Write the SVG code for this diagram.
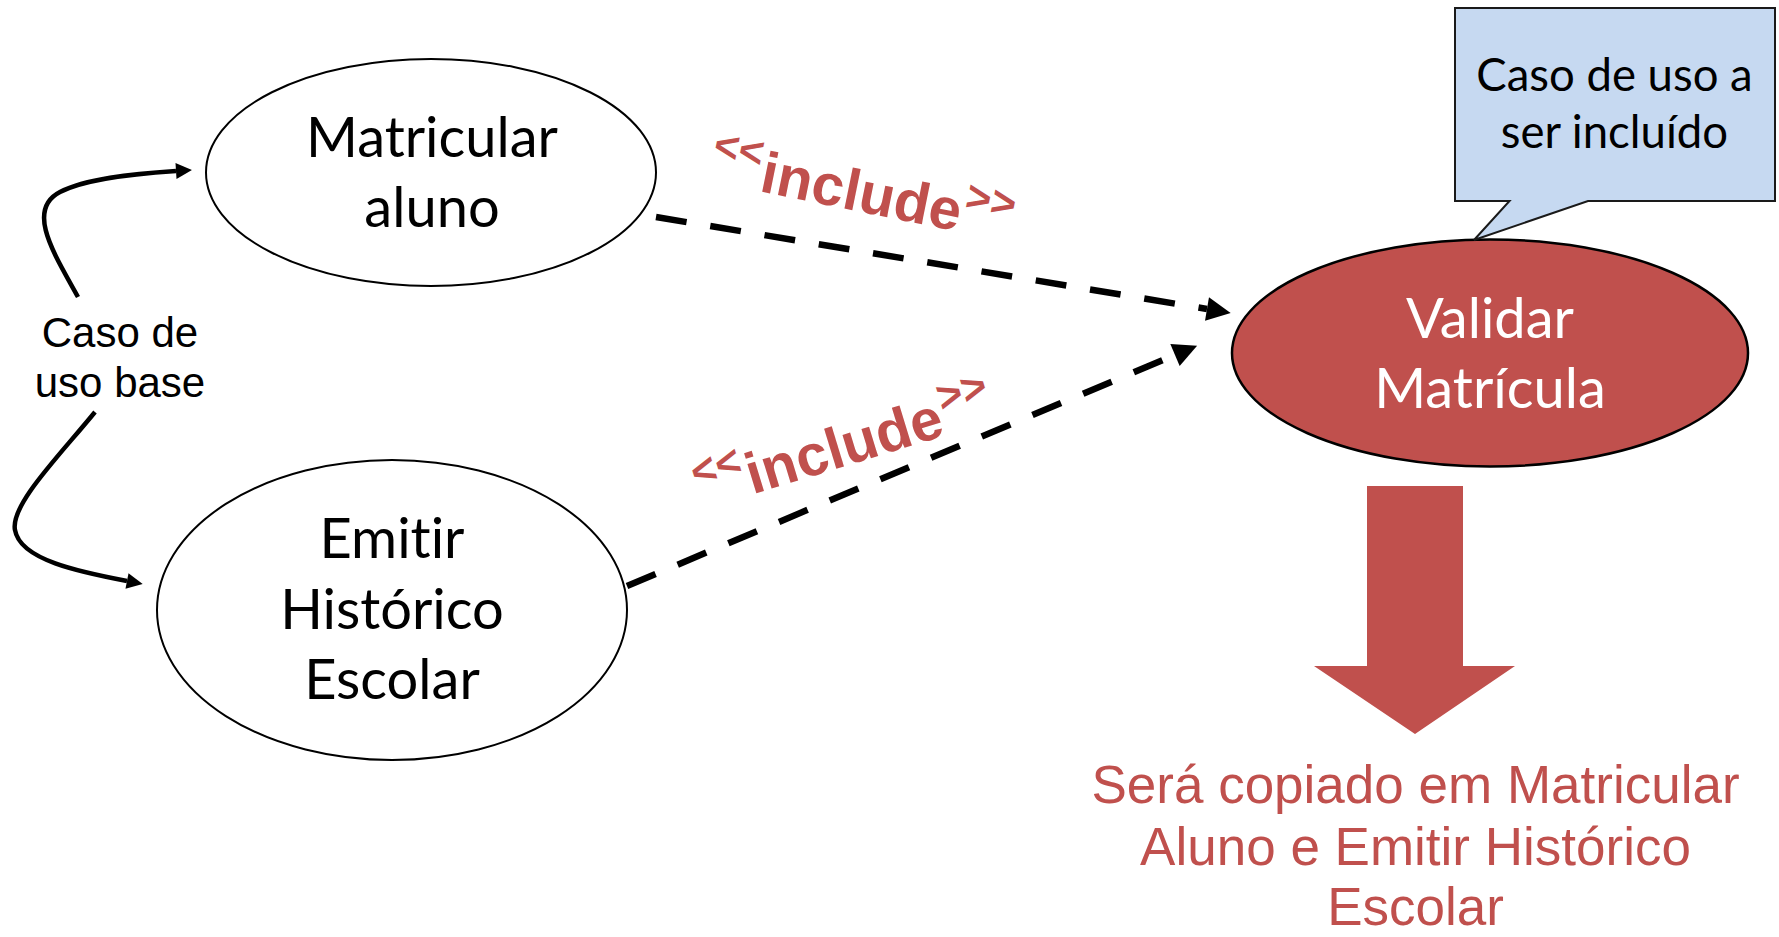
<svg xmlns="http://www.w3.org/2000/svg" width="1779" height="937" viewBox="0 0 1779 937">
<style>
.uc{font-family:Lato,"Open Sans","Liberation Sans",sans-serif;font-size:56px;text-anchor:middle;fill:#000;font-variant-ligatures:none}
.ucw{fill:#fff}
.note{font-family:Lato,"Open Sans","Liberation Sans",sans-serif;font-size:45.5px;text-anchor:middle;fill:#000;font-variant-ligatures:none}
.lbl{font-family:"Liberation Sans",Arial,sans-serif;font-size:42px;text-anchor:middle;fill:#000}
.inc{font-family:"Liberation Sans",Arial,sans-serif;font-weight:bold;font-size:58px;fill:#C0504D}
.ch{font-size:43px}
.red{font-family:"Liberation Sans",Arial,sans-serif;font-size:53px;text-anchor:middle;fill:#C0504D}
.dash{fill:none;stroke:#000;stroke-width:6.5;stroke-dasharray:31 24;marker-end:url(#tri)}
.curve{fill:none;stroke:#000;stroke-width:4.5;marker-end:url(#tri2)}
</style>
<defs>
<marker id="tri" markerUnits="userSpaceOnUse" markerWidth="26" markerHeight="26" refX="0" refY="12" orient="auto" viewBox="0 0 26 26" overflow="visible">
<path d="M0,0 L24,12 L0,24 Z" fill="#000"/>
</marker>
<marker id="tri2" markerUnits="userSpaceOnUse" markerWidth="18" markerHeight="18" refX="0" refY="8" orient="auto" viewBox="0 0 18 18" overflow="visible">
<path d="M0,0 L16,8 L0,16 Z" fill="#000"/>
</marker>
</defs>
<rect width="1779" height="937" fill="#fff"/>

<g id="connectors">
<path class="dash" d="M656,217 L1207,309"/>
<path class="dash" d="M627,586 L1175,355"/>
<path class="curve" d="M78,297 C55,255 25,210 60,192 C85,179 130,174 176,171"/>
<path class="curve" d="M95,412 C60,455 10,505 15,530 C20,560 80,572 127,581"/>
</g>

<g id="label-base">
<text class="lbl" x="120" y="347">Caso de</text>
<text class="lbl" x="120" y="397">uso base</text>
</g>

<g id="include-1" transform="translate(763,192) rotate(11.5)">
<text class="inc" x="-57" y="0"><tspan class="ch" dy="-23">&lt;&lt;</tspan><tspan dx="2" dy="23">include</tspan><tspan class="ch" dx="2" dy="-23">&gt;&gt;</tspan></text>
</g>
<g id="include-2" transform="translate(757,493) rotate(-17)">
<text class="inc" x="-57" y="0"><tspan class="ch" dy="-23">&lt;&lt;</tspan><tspan dx="2" dy="23">include</tspan><tspan class="ch" dx="2" dy="-23">&gt;&gt;</tspan></text>
</g>

<g id="matricular-aluno">
<ellipse cx="431" cy="172.5" rx="225" ry="113.5" fill="#fff" stroke="#000" stroke-width="2"/>
<text class="uc" x="432" y="157">Matricular</text>
<text class="uc" x="432" y="227">aluno</text>
</g>

<g id="emitir-historico">
<ellipse cx="392" cy="610" rx="235" ry="150" fill="#fff" stroke="#000" stroke-width="2"/>
<text class="uc" x="392" y="558">Emitir</text>
<text class="uc" x="392" y="629">Histórico</text>
<text class="uc" x="392" y="699">Escolar</text>
</g>

<g id="validar-matricula">
<ellipse cx="1490" cy="353" rx="258" ry="113.5" fill="#C0504D" stroke="#000" stroke-width="2.5"/>
<text class="uc ucw" x="1490" y="338">Validar</text>
<text class="uc ucw" x="1490" y="408">Matrícula</text>
</g>

<g id="callout">
<path d="M1455,8 H1775 V201 H1588 L1474,240 L1509.5,201 H1455 Z" fill="#C6D9F1" stroke="#1a1a1a" stroke-width="2"/>
<text class="note" x="1614.5" y="91">Caso de uso a</text>
<text class="note" x="1614.5" y="148">ser incluído</text>
</g>

<g id="big-arrow">
<polygon points="1367,486 1463,486 1463,666 1515,666 1415,734 1314,666 1367,666" fill="#C0504D"/>
</g>

<g id="result-text">
<text class="red" x="1415.5" y="803">Será copiado em Matricular</text>
<text class="red" x="1415.5" y="865">Aluno e Emitir Histórico</text>
<text class="red" x="1415.5" y="925">Escolar</text>
</g>
</svg>
